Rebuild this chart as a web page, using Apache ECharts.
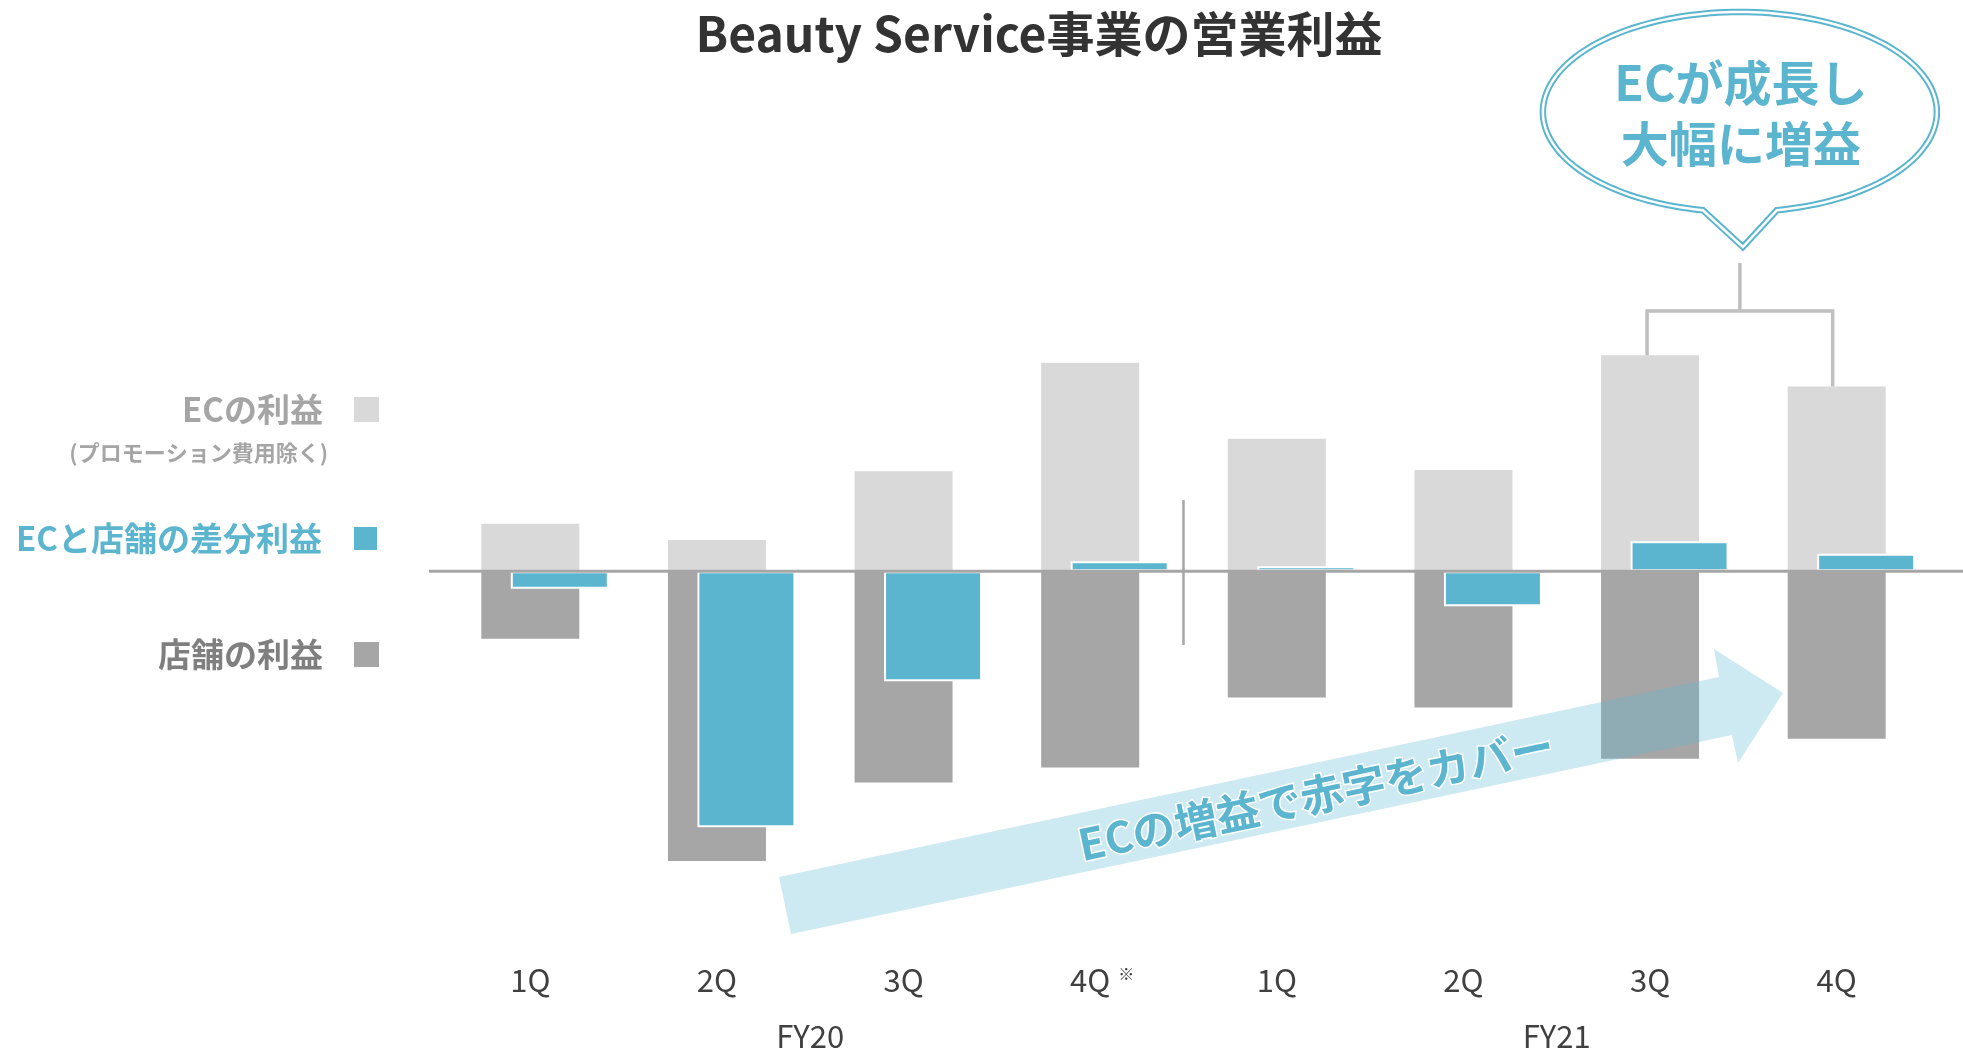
<!DOCTYPE html>
<html>
<head>
<meta charset="utf-8">
<script src="https://cdn.jsdelivr.net/npm/echarts@6/dist/echarts.min.js"></script>
<style>
html,body{margin:0;padding:0;background:#fff;}
#c{width:1963px;height:1052px;}
</style>
</head>
<body>
<div id="c"></div>
<script>
// ---- data ----
const quarters = ['1Q', '2Q', '3Q', '4Q', '1Q', '2Q', '3Q', '4Q'];
const fiscalYears = ['FY20', 'FY21'];
const ecProfit = [38, 25, 80, 167, 106, 81, 173, 148];          // ECの利益（プロモーション費用除く）
const storeProfit = [-54, -232, -169, -157, -101, -109, -150, -134]; // 店舗の利益
const diffProfit = [-14, -205, -88, 8, 4, -28, 24, 14];         // ECと店舗の差分利益
const noteIndex = 3;   // 4Q FY20 carries the ※ mark
const titleText = 'Beauty Service事業の営業利益';
const subLegend = '(プロモーション費用除く)';
const bubbleText = 'ECが成長し\n大幅に増益';
const arrowText = 'ECの増益で赤字をカバー';

const W = 1963;
const FONT = '"Noto Sans CJK JP", "Noto Sans", sans-serif';
const BLUE = '#5bb5cf';
const LIGHT = '#d9d9d9';
const DARK = '#a6a6a6';

const chart = echarts.init(document.getElementById('c'));

function legendItem(name, color, top) {
  return {
    data: [name], right: 1584, top: top, orient: 'vertical', align: 'right',
    icon: 'rect', itemWidth: 25, itemHeight: 25, padding: 0, selectedMode: false,
    formatter: '{a|{name}}',
    textStyle: {
      rich: { a: { fontFamily: FONT, fontSize: 33, fontWeight: 'bold', color: color, lineHeight: 40, padding: [0, 26, 0, 0] } }
    }
  };
}

const option = {
  animation: false,
  backgroundColor: '#fff',
  grid: { left: 437, right: 33, top: 259, bottom: 92 },
  legend: [
    legendItem('ECの利益', '#a5a5a5', 393),
    legendItem('ECと店舗の差分利益', BLUE, 522),
    legendItem('店舗の利益', '#7f7f7f', 638)
  ],
  xAxis: [
    {
      type: 'category', data: quarters,
      axisLine: { show: false }, axisTick: { show: false }, splitLine: { show: false },
      axisLabel: {
        interval: 0, margin: 7, color: '#404040', fontFamily: FONT, fontSize: 31, lineHeight: 30,
        formatter: (v, i) => i === noteIndex ? '{gh|※}' + v + '{sup|※}' : v,
        rich: {
          gh: { fontSize: 16, fontFamily: FONT, color: 'rgba(0,0,0,0)', padding: [0, 8, 0, 0] },
          sup: { fontSize: 16, fontFamily: FONT, color: '#404040', verticalAlign: 'top', padding: [0, 0, 0, 8] }
        }
      }
    },
    {
      type: 'category', data: fiscalYears, position: 'bottom', offset: 56,
      axisLine: { show: false }, axisTick: { show: false }, splitLine: { show: false },
      axisLabel: { interval: 0, margin: 7, color: '#404040', fontFamily: FONT, fontSize: 31, lineHeight: 30 }
    }
  ],
  yAxis: { type: 'value', min: -310, max: 250, show: false, splitLine: { show: false } },
  series: [
    { name: '_pad', type: 'bar', data: [], barWidth: 98, barGap: '-69.9%', silent: true },
    { name: 'ECの利益', type: 'bar', stack: 'base', data: ecProfit, barWidth: 98, barGap: '-69.9%',
      itemStyle: { color: LIGHT }, z: 2 },
    { name: '店舗の利益', type: 'bar', stack: 'base', data: storeProfit, barWidth: 98, barGap: '-69.9%',
      itemStyle: { color: DARK }, z: 2 },
    { name: 'ECと店舗の差分利益', type: 'bar', data: diffProfit, barWidth: 98, barGap: '-69.9%',
      itemStyle: { color: BLUE, borderColor: '#fff', borderWidth: 2 }, z: 4 }
  ]
};
chart.setOption(option);

function buildGraphics() {
  const p = (i, v) => chart.convertToPixel({ seriesIndex: 1 }, [i, v]);
  const y0 = p(0, 0)[1];
  const g = [];

  // title
  g.push({ type: 'text', x: 1039, y: 34, z: 10,
    style: { text: titleText, font: 'bold 48px ' + FONT, fill: '#333333', align: 'center', verticalAlign: 'middle' } });

  // legend sub note
  g.push({ type: 'text', x: 328, y: 453, z: 10,
    style: { text: subLegend, font: 'bold 22px ' + FONT, fill: '#a5a5a5', align: 'right', verticalAlign: 'middle' } });

  // zero line
  g.push({ type: 'line', z: 5, shape: { x1: 429, y1: y0, x2: W, y2: y0 },
    style: { stroke: DARK, lineWidth: 3 } });

  // FY separator
  const sx = (p(3, 0)[0] + p(4, 0)[0]) / 2;
  g.push({ type: 'line', z: 5, shape: { x1: sx, y1: p(0, 57)[1], x2: sx, y2: p(0, -59)[1] },
    style: { stroke: DARK, lineWidth: 2.5 } });

  // bracket over FY21 3Q / 4Q
  const a = p(6, ecProfit[6]);
  const b = p(7, ecProfit[7]);
  const xl = a[0] - 3, xr = b[0] - 4, yb = 311;
  const xm = (xl + xr) / 2;
  g.push({ type: 'polyline', z: 5, shape: { points: [[xl, a[1]], [xl, yb], [xr, yb], [xr, b[1]]] },
    style: { stroke: '#bfbfbf', lineWidth: 3.5, fill: null } });
  g.push({ type: 'line', z: 5, shape: { x1: xm, y1: yb, x2: xm, y2: 263 },
    style: { stroke: '#bfbfbf', lineWidth: 3.5 } });

  // speech bubble
  const cx = xm, cy = 112, rx = 197, ry = 100, half = 37;
  const t0 = Math.acos(half / rx);
  const t1 = Math.PI - t0 - 2 * Math.PI;
  const pts = [];
  const N = 160;
  for (let k = 0; k <= N; k++) {
    const t = t0 + (t1 - t0) * k / N;
    pts.push([cx + rx * Math.cos(t), cy + ry * Math.sin(t)]);
  }
  pts.push([cx + 3, 247]);
  g.push({ type: 'polygon', z: 8, shape: { points: pts },
    style: { fill: '#fff', stroke: BLUE, lineWidth: 6.5, lineJoin: 'miter' } });
  g.push({ type: 'polygon', z: 9, shape: { points: pts },
    style: { fill: null, stroke: '#fff', lineWidth: 2.5, lineJoin: 'miter' } });
  g.push({ type: 'text', x: cx + 1, y: 113, z: 10,
    style: { text: bubbleText, font: 'bold 48px ' + FONT, fill: BLUE, align: 'center', verticalAlign: 'middle', lineHeight: 61 } });

  // big translucent arrow
  g.push({ type: 'polygon', z: 6, shape: { points: [
      [779, 877], [1719, 677], [1714, 649], [1783, 693], [1738, 763], [1732, 735], [791, 934]
    ] },
    style: { fill: 'rgba(91,181,207,0.3)' } });
  g.push({ type: 'text', x: 1316, y: 795, z: 7, rotation: 12 * Math.PI / 180,
    style: { text: arrowText, font: 'bold 43px ' + FONT, fill: BLUE, align: 'center', verticalAlign: 'middle',
      stroke: '#ffffff', lineWidth: 3, shadowColor: '#ffffff', shadowBlur: 8 } });

  chart.setOption({ graphic: g });
}
buildGraphics();
</script>
</body>
</html>
